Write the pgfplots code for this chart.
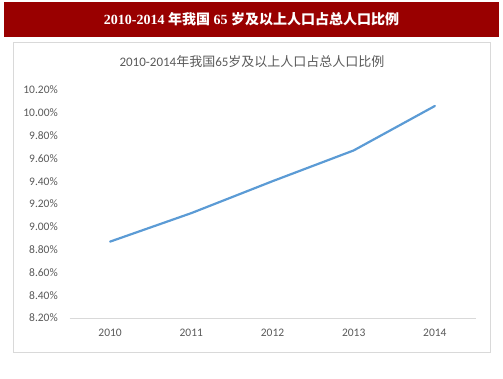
\documentclass[border=0pt]{standalone}
\usepackage{pgfplots}
\pgfplotsset{compat=1.18}
\usepackage{fontspec}
\setmainfont{Carlito}
\newfontfamily\cjk{Noto Sans CJK SC}
\newfontfamily\hdserif{Liberation Serif}
\definecolor{hdred}{HTML}{990000}
\definecolor{lblue}{HTML}{5B9BD5}
\definecolor{tgray}{HTML}{595959}
\definecolor{bgray}{HTML}{D9D9D9}
\begin{document}
\begin{tikzpicture}[x=1pt,y=1pt]
\path[use as bounding box] (0,0) rectangle (503,378);
\fill[hdred] (4,341) rectangle (499,376);
\node[text=white, inner sep=0pt] at (251.5,358.5) {\fontsize{14}{16}\selectfont\hdserif\bfseries 2010-2014 {\cjk\bfseries 年我国} 65 {\cjk\bfseries 岁及以上人口占总人口比例}};
\draw[bgray, line width=0.8pt] (13.5,26) rectangle (490,336);
\node[text=tgray, inner sep=0pt] at (252,316) {\fontsize{13}{15}\selectfont 2010-2014{\cjk 年我国}65{\cjk 岁及以上人口占总人口比例}};
\begin{axis}[
  at={(69.5pt,60pt)}, anchor=south west,
  scale only axis, width=406pt, height=228pt,
  xmin=-0.5, xmax=4.5, ymin=8.2, ymax=10.2,
  xtick={0,1,2,3,4},
  xticklabels={2010,2011,2012,2013,2014},
  ytick={8.2,8.4,8.6,8.8,9.0,9.2,9.4,9.6,9.8,10.0,10.2},
  yticklabel={\pgfmathprintnumber[fixed,fixed zerofill,precision=2]{\tick}\%},
  /pgf/number format/assume math mode=true,
  major tick length=0pt,
  axis x line*=bottom, axis y line*=left,
  x axis line style={draw=bgray, line width=0.8pt, -},
  y axis line style={draw=none},
  tick label style={text=tgray, font=\fontsize{11.5}{13}\selectfont, inner sep=0pt},
  yticklabel style={anchor=east, xshift=-11.5pt},
  xticklabel style={anchor=north, yshift=-11pt},
  clip=false,
]
\addplot[lblue, line width=2.2pt, line join=round, line cap=round] coordinates {
 (0,8.87) (1,9.12) (2,9.40) (3,9.67) (4,10.06)
};
\end{axis}
\end{tikzpicture}
\end{document}
